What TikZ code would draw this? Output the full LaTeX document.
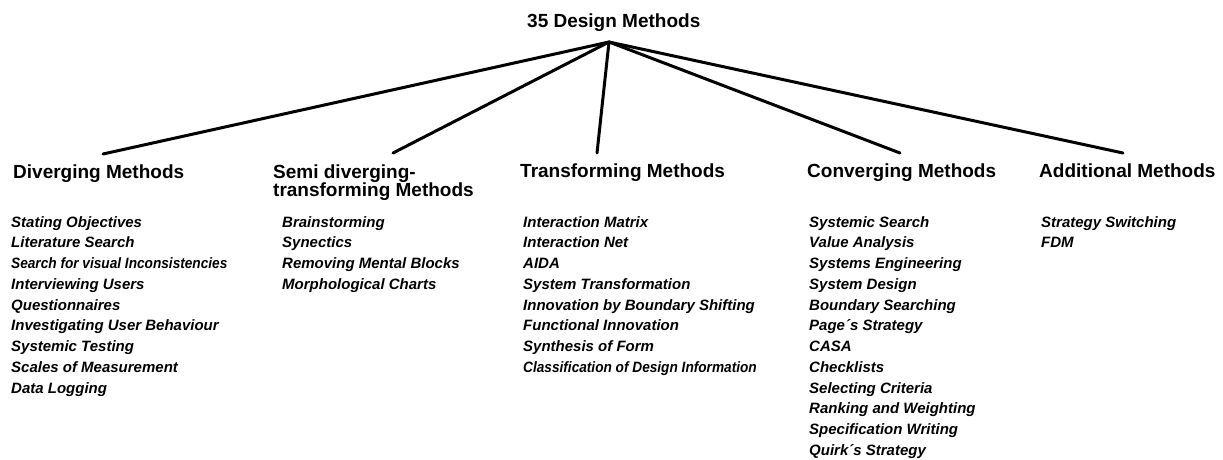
\documentclass[tikz,border=0pt]{standalone}
\usepackage{fontspec}
\setmainfont{Liberation Sans}
\usepackage{graphicx}
% left-aligned column whose baseline is that of its first line
\newcommand{\colstack}[1]{\begin{tabular}[t]{@{}l@{}}#1\end{tabular}}
\begin{document}
\begin{tikzpicture}[x=1pt,y=1pt,
  heading/.style={inner sep=0pt, anchor=base west,
    font=\fontsize{19pt}{17pt}\selectfont\bfseries},
  itemlist/.style={inner sep=0pt, anchor=base west,
    font=\fontsize{15pt}{20.75pt}\selectfont\bfseries\itshape},
  branch/.style={line width=3pt, line cap=round}]
\useasboundingbox (0,0) rectangle (1223,-459);

% root
\node[heading] (root) at (527,-27) {35 Design Methods};
\coordinate (apex) at (609,-42);

% category headings
\node[heading] (div)   at (13,-178)   {Diverging Methods};
\node[heading] (semi)  at (273,-178)  {\colstack{Semi diverging-\\transforming Methods}};
\node[heading] (trans) at (520,-177)  {Transforming Methods};
\node[heading] (conv)  at (807,-177)  {Converging Methods};
\node[heading] (add)   at (1039,-177) {Additional Methods};

% ends of the branches above each heading
\coordinate (divtop)   at (103,-154);
\coordinate (semitop)  at (393,-153);
\coordinate (transtop) at (597,-153);
\coordinate (convtop)  at (900,-153);
\coordinate (addtop)   at (1123,-153);

\foreach \e in {divtop,semitop,transtop,convtop,addtop}
  \draw[branch] (apex) -- (\e);

% method lists
\node[itemlist] (divlist) at (11,-227) {\colstack{Stating Objectives\\Literature Search\\
  \scalebox{0.91}[1]{Search for visual Inconsistencies}\\Interviewing Users\\
  Questionnaires\\Investigating User Behaviour\\Systemic Testing\\
  Scales of Measurement\\Data Logging}};
\node[itemlist] (semilist) at (282,-227) {\colstack{Brainstorming\\Synectics\\
  Removing Mental Blocks\\Morphological Charts}};
\node[itemlist] (translist) at (523,-227) {\colstack{Interaction Matrix\\Interaction Net\\
  AIDA\\System Transformation\\Innovation by Boundary Shifting\\
  Functional Innovation\\Synthesis of Form\\
  \scalebox{0.91}[1]{Classification of Design Information}}};
\node[itemlist] (convlist) at (809,-227) {\colstack{Systemic Search\\Value Analysis\\
  Systems Engineering\\System Design\\Boundary Searching\\Page´s Strategy\\
  CASA\\Checklists\\Selecting Criteria\\Ranking and Weighting\\
  Specification Writing\\Quirk´s Strategy}};
\node[itemlist] (addlist) at (1041,-227) {\colstack{Strategy Switching\\FDM}};
\end{tikzpicture}
\end{document}
